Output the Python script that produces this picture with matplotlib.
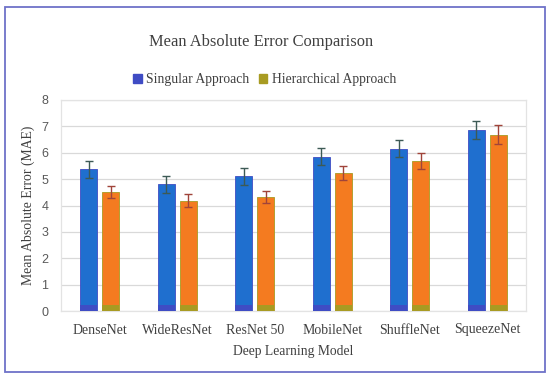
import matplotlib
matplotlib.use("Agg")
import matplotlib.pyplot as plt
import numpy as np
from matplotlib.patches import Rectangle

models = ["DenseNet", "WideResNet", "ResNet 50", "MobileNet", "ShuffleNet", "SqueezeNet"]
singular = [5.37, 4.81, 5.11, 5.85, 6.15, 6.87]
singular_err = [0.32, 0.32, 0.32, 0.32, 0.32, 0.33]
hierarchical = [4.51, 4.18, 4.33, 5.24, 5.69, 6.69]
hierarchical_err = [0.24, 0.24, 0.23, 0.26, 0.29, 0.35]
series_names = ["Singular Approach", "Hierarchical Approach"]
yticks = [0, 1, 2, 3, 4, 5, 6, 7, 8]

serif = ["Liberation Serif", "DejaVu Serif"]
sans = ["Liberation Sans", "DejaVu Sans"]

fig = plt.figure(figsize=(5.5, 3.82), dpi=100)
fig.patch.set_facecolor("white")
ax = fig.add_axes([61/550, 1 - 311/382, (526-61)/550, (311-100)/382])

x = np.arange(len(models))
w = 0.22
off = 0.142
blue, orange = "#1F6FCF", "#F47B20"
blue_leg, olive_leg = "#3F4CC4", "#A89B22"

ax.bar(x - off, singular, w, color=blue, edgecolor=blue_leg, linewidth=0.6, zorder=3)
ax.bar(x + off, hierarchical, w, color=orange, edgecolor=olive_leg, linewidth=0.6, zorder=3)
# darker base strip seen at the bottom of every bar
base = yticks[-1] * 0.03
ax.bar(x - off, [base] * len(models), w, color=blue_leg, zorder=4, linewidth=0)
ax.bar(x + off, [base] * len(models), w, color=olive_leg, zorder=4, linewidth=0)

ax.errorbar(x - off, singular, yerr=singular_err, fmt="none", ecolor="#3D5A55",
            elinewidth=1.0, capsize=3.2, capthick=1.0, zorder=5)
ax.errorbar(x + off, hierarchical, yerr=hierarchical_err, fmt="none", ecolor="#A0443A",
            elinewidth=1.0, capsize=3.2, capthick=1.0, zorder=5)

ax.set_xlim(-0.5, len(models) - 0.5)
ax.set_ylim(yticks[0], yticks[-1])
ax.set_yticks(yticks)
ax.set_yticklabels([str(t) for t in yticks], family=sans, fontsize=9, color="#595959")
ax.set_xticks(x)
ax.set_xticklabels(models, family=serif, fontsize=10, color="#404040")
ax.tick_params(axis="x", length=0, pad=9)
ax.tick_params(axis="y", length=0, pad=9)
ax.grid(axis="y", color="#D9D9D9", linewidth=0.9, zorder=0)
for s in ax.spines.values():
    s.set_color("#E3E3E3")
    s.set_linewidth(0.9)

ax.set_ylabel("Mean Absolute Error (MAE)", family=serif, fontsize=9.9, color="#404040", labelpad=4.5)
ax.set_xlabel("Deep Learning Model", family=serif, fontsize=9.8, color="#404040", labelpad=6)

fig.text(261/550, 1 - 42/382, "Mean Absolute Error Comparison", family=serif, fontsize=11.9,
         color="#404040", ha="center", va="center")

handles = [Rectangle((0, 0), 1, 1, color=blue_leg), Rectangle((0, 0), 1, 1, color=olive_leg)]
leg = fig.legend(handles, series_names, loc="center", bbox_to_anchor=(265/550, 1 - 80/382),
                 ncol=2, frameon=False, prop={"family": serif, "size": 9.8},
                 handlelength=0.6, handleheight=0.6, handletextpad=0.35, columnspacing=0.7)
for t in leg.get_texts():
    t.set_color("#404040")

fig.patches.append(Rectangle((5/550, 1 - 372/382), (545-5)/550, (372-7)/382,
                             transform=fig.transFigure, fill=False,
                             edgecolor="#6E72C8", linewidth=1.3))

fig.savefig("out.png", dpi=100)
